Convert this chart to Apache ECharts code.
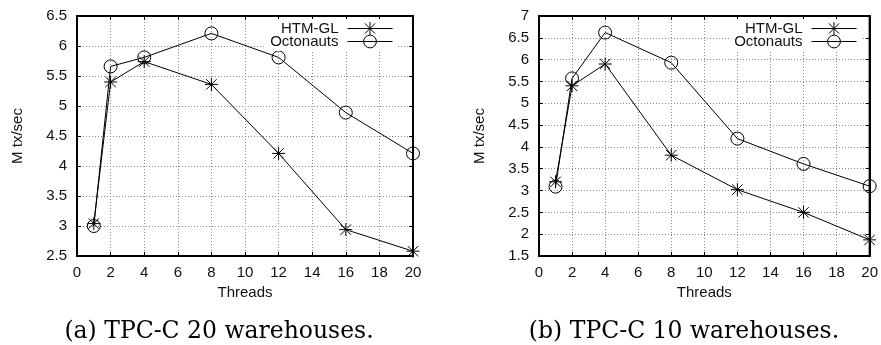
<!DOCTYPE html>
<html>
<head>
<meta charset="utf-8">
<script src="https://cdn.jsdelivr.net/npm/echarts@6/dist/echarts.min.js"></script>
<style>
  html, body { margin: 0; padding: 0; background: #fff; }
  #chart { width: 881px; height: 345px; }
</style>
</head>
<body>
<div id="chart"></div>
<script>
// Thread counts on the x axis
const threads = [1, 2, 4, 8, 12, 16, 20];

// (a) TPC-C, 20 warehouses — throughput in M tx/sec
const htm20 = [3.04, 5.40, 5.74, 5.36, 4.21, 2.94, 2.58];
const oct20 = [3.00, 5.66, 5.81, 6.21, 5.81, 4.89, 4.21];

// (b) TPC-C, 10 warehouses — throughput in M tx/sec
const htm10 = [3.20, 5.40, 5.90, 3.81, 3.02, 2.50, 1.87];
const oct10 = [3.09, 5.57, 6.62, 5.93, 4.19, 3.61, 3.10];

const seriesNames = ['HTM-GL', 'Octonauts'];
const captions = ['(a) TPC-C 20 warehouses.', '(b) TPC-C 10 warehouses.'];
const xName = 'Threads';
const yName = 'M tx/sec';

const SANS = '"Liberation Sans", Arial, Helvetica, sans-serif';
const SERIF = '"DejaVu Serif", "Liberation Serif", serif';

// asterisk (+ and x) and open circle drawn as stroked paths
const starSymbol = 'path://M5,0L5,10M0,5L10,5M1,1L9,9M1,9L9,1';
const circleSymbol = 'path://M0,5A5,5,0,1,1,10,5A5,5,0,1,1,0,5Z';

const chart = echarts.init(document.getElementById('chart'), null, { renderer: 'canvas' });

const panels = [
  { grid: { left: 77, top: 16, width: 336, height: 240 }, yMin: 2.5, yMax: 6.5, htm: htm20, oct: oct20, legendRight: 484, caption: 219 },
  { grid: { left: 539, top: 16, width: 335, height: 240 }, yMin: 1.5, yMax: 7, htm: htm10, oct: oct10, legendRight: 20, caption: 684 }
];

const grids = [], xAxes = [], yAxes = [], series = [], legends = [], graphics = [];

panels.forEach((p, i) => {
  grids.push(Object.assign({ show: true, borderColor: '#000', borderWidth: 2, backgroundColor: 'transparent' }, p.grid));

  const axisLine = { show: true, onZero: false, lineStyle: { color: '#000', width: 2 } };
  const tick = { show: true, inside: true, length: 4, lineStyle: { color: '#000', width: 1 } };
  const split = { show: true, lineStyle: { color: '#8a8a8a', width: 1, type: [1, 2] } };
  const label = { color: '#111', fontFamily: SANS, fontSize: 15 };

  // bottom axis with labels and grid lines
  xAxes.push({
    type: 'value', gridIndex: i, min: 0, max: 20, interval: 2, position: 'bottom',
    axisLine, axisTick: tick, splitLine: split,
    axisLabel: Object.assign({ margin: 9 }, label),
    name: xName, nameLocation: 'middle', nameGap: 29,
    nameTextStyle: { color: '#111', fontFamily: SANS, fontSize: 15 }
  });
  // mirrored top axis: ticks only
  xAxes.push({
    type: 'value', gridIndex: i, min: 0, max: 20, interval: 2, position: 'top',
    axisLine, axisTick: tick, splitLine: { show: false }, axisLabel: { show: false }
  });
  // left axis with labels and grid lines
  yAxes.push({
    type: 'value', gridIndex: i, min: p.yMin, max: p.yMax, interval: 0.5, position: 'left',
    axisLine, axisTick: tick, splitLine: split,
    axisLabel: Object.assign({ margin: 10 }, label),
    name: yName, nameLocation: 'middle', nameGap: 52,
    nameTextStyle: { color: '#111', fontFamily: SANS, fontSize: 15 }
  });
  // mirrored right axis: ticks only
  yAxes.push({
    type: 'value', gridIndex: i, min: p.yMin, max: p.yMax, interval: 0.5, position: 'right',
    axisLine, axisTick: tick, splitLine: { show: false }, axisLabel: { show: false }
  });

  const mk = (name, vals, symbol) => ({
    name, type: 'line', xAxisIndex: i * 2, yAxisIndex: i * 2,
    data: threads.map((t, k) => [t, vals[k]]),
    symbol, symbolSize: 13, showSymbol: true,
    lineStyle: { color: '#000', width: 1 },
    itemStyle: { color: 'rgba(0,0,0,0)', borderColor: '#000', borderWidth: 1 },
    emphasis: { disabled: true },
    clip: false, z: 3
  });
  series.push(mk(seriesNames[0], p.htm, starSymbol));
  series.push(mk(seriesNames[1], p.oct, circleSymbol));

  legends.push({
    data: seriesNames, orient: 'vertical', align: 'right',
    right: p.legendRight, top: 19, itemWidth: 45, itemHeight: 16, itemGap: -2,
    padding: [2, 4, 2, 4], backgroundColor: '#fff',
    itemStyle: { color: 'rgba(0,0,0,0)', borderColor: '#000', borderWidth: 1 },
    lineStyle: { color: '#000', width: 1 },
    textStyle: { color: '#111', fontFamily: SANS, fontSize: 15, padding: [0, 4, 0, 0] },
    selectedMode: false
  });

  graphics.push({
    type: 'text', x: p.caption, y: 332,
    style: { text: captions[i], fill: '#000', font: '23.5px ' + SERIF, align: 'center', verticalAlign: 'middle' }
  });
});

chart.setOption({
  animation: false,
  backgroundColor: '#fff',
  grid: grids,
  xAxis: xAxes,
  yAxis: yAxes,
  legend: legends,
  series,
  graphic: graphics
});
</script>
</body>
</html>
